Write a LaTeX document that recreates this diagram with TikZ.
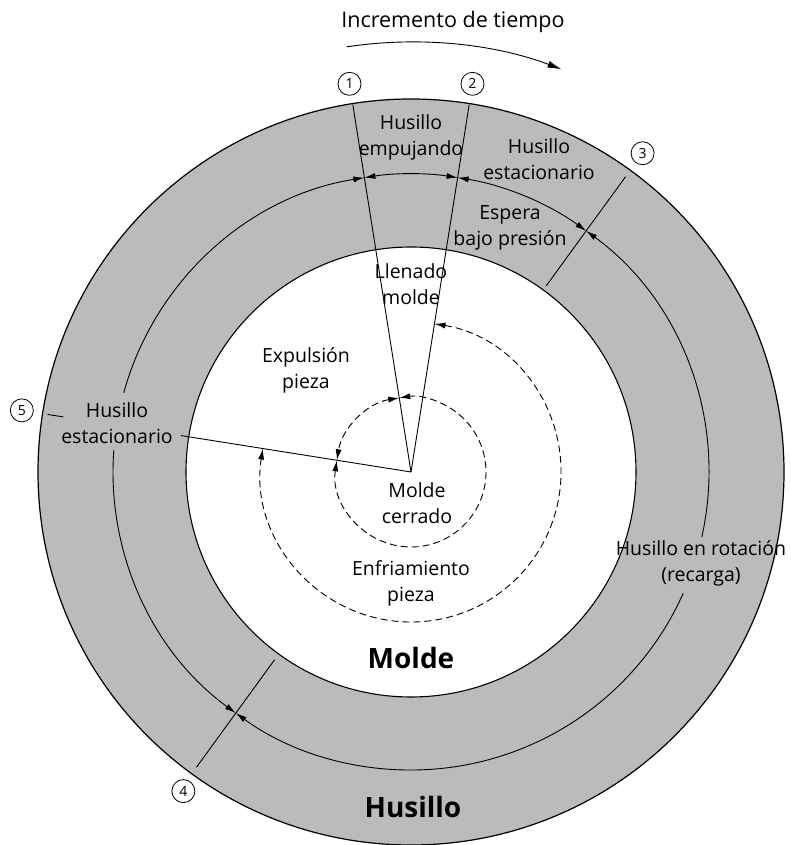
\documentclass[tikz,border=0pt]{standalone}
\usepackage{fontspec}
\setmainfont{Open Sans}
\usetikzlibrary{arrows.meta}
\definecolor{ringgray}{RGB}{187,187,187}
\begin{document}
\begin{tikzpicture}[x=1pt,y=1pt,line width=0.9pt]
  \tikzstyle{phasenode}=[align=center, inner sep=0pt, font=\fontsize{19.5}{26}\selectfont]
  \tikzstyle{bignode}=[inner sep=0pt, font=\fontsize{28}{28}\selectfont\bfseries]
  \tikzstyle{numnode}=[draw, circle, minimum size=23pt, inner sep=0pt, line width=0.8pt, font=\fontsize{14}{14}\selectfont]
  \tikzstyle{tips}=[{Latex[length=11pt,width=6pt]}-{Latex[length=11pt,width=6pt]}]
  \tikzstyle{endtip}=[-{Latex[length=11pt,width=6pt]}]
  \tikzstyle{starttip}=[{Latex[length=11pt,width=6pt]}-]
  \tikzstyle{moldline}=[dash pattern=on 7pt off 4pt]
  \useasboundingbox (-411,-373) rectangle (379,472);
  \coordinate (c) at (0,0);

  % screw ring and mold disc
  \fill[ringgray, draw=black, line width=1.2pt] (c) circle[radius=373pt];
  \fill[white, draw=black, line width=1.1pt] (c) circle[radius=225pt];

  % phase boundaries
  \draw (c) -- (99:372);
  \draw (c) -- (81:372);
  \draw (54:230) -- (54:365);
  \draw (234:232) -- (234:365);
  \draw (c) -- (171:233);
  \draw (171:352) -- (171:368);

  % screw phases
  \draw[tips] (99:298) arc[start angle=99, end angle=81, radius=298pt];
  \draw[tips] (81:298) arc[start angle=81, end angle=54, radius=298pt];
  \draw[endtip] (-12.6:298) arc[start angle=-12.6, end angle=54, radius=298pt];
  \draw[endtip] (-24:298) arc[start angle=-24, end angle=-126, radius=298pt];
  \draw[starttip] (99:298) arc[start angle=99, end angle=164.6, radius=298pt];
  \draw[endtip] (175.8:298) arc[start angle=175.8, end angle=234, radius=298pt];

  % mold phases
  \draw[moldline, tips] (99:75) arc[start angle=99, end angle=171, radius=75pt];
  \draw[moldline, tips] (171:75) arc[start angle=171, end angle=459, radius=75pt];
  \draw[moldline, tips] (81:150) arc[start angle=81, end angle=-189, radius=150pt];

  % time direction
  \draw[-{Latex[length=14pt,width=7pt]}] (98.6:430) arc[start angle=98.6, end angle=69.5, radius=430pt];
  \node[phasenode, font=\fontsize{21.5}{26}\selectfont] (tiempo) at (42,450) {Incremento de tiempo};

  % step numbers
  \node[numnode] (n1) at (99:393) {1};
  \node[numnode] (n2) at (81:393) {2};
  \node[numnode] (n3) at (54:394) {3};
  \node[numnode] (n4) at (234.5:392) {4};
  \node[numnode] (n5) at (171:394) {5};

  % screw labels
  \node[phasenode] (empuje) at (0,335) {Husillo\\empujando};
  \node[phasenode] (estac1) at (128,313) {Husillo\\estacionario};
  \node[phasenode] (espera) at (99,244) {Espera\\bajo presión};
  \node[phasenode] (rotacion) at (290,-91) {Husillo en rotación\\(recarga)};
  \node[phasenode] (estac2) at (-294,49) {Husillo\\estacionario};
  \node[bignode] (husillo) at (2,-335) {Husillo};

  % mold labels
  \node[phasenode] (llenado) at (0,188) {Llenado\\molde};
  \node[phasenode] (expulsion) at (-105,102) {Expulsión\\pieza};
  \node[phasenode] (cerrado) at (6,-31) {Molde\\cerrado};
  \node[phasenode] (enfriamiento) at (0,-111) {Enfriamiento\\pieza};
  \node[bignode] (molde) at (0,-186) {Molde};
\end{tikzpicture}
\end{document}
